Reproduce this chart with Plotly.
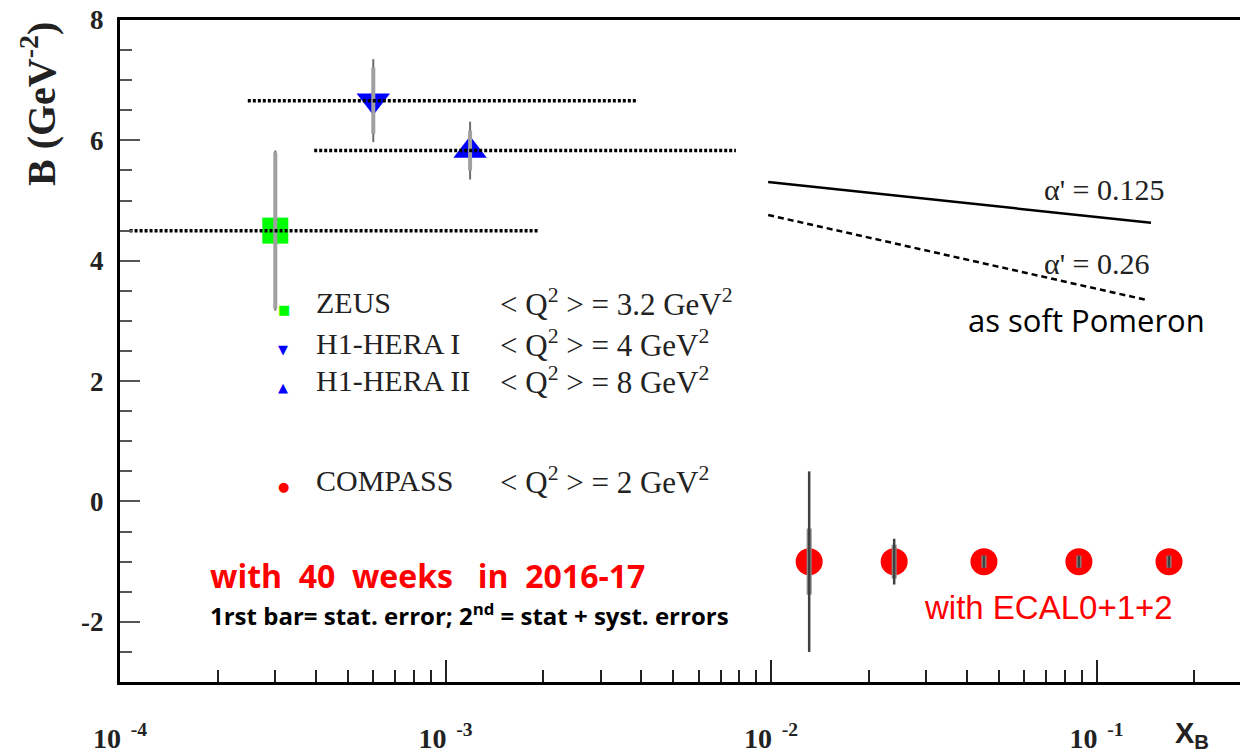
import plotly.graph_objects as go

# ---------------- data ----------------
zeus_x = [3.0e-4]
zeus_B = [4.5]
zeus_stat = [1.30]
zeus_tot = [1.33]
zeus_xlo = [1.07e-4]
zeus_xhi = [1.94e-3]

h1i_x = [6.0e-4]
h1i_B = [6.66]
h1i_stat = [0.55]
h1i_tot = [0.69]
h1i_xlo = [2.47e-4]
h1i_xhi = [3.9e-3]

h1ii_x = [1.19e-3]
h1ii_B = [5.83]
h1ii_stat = [0.33]
h1ii_tot = [0.48]
h1ii_xlo = [3.95e-4]
h1ii_xhi = [7.8e-3]

compass_x = [0.0131, 0.0239, 0.0451, 0.0883, 0.167]
compass_B = [-1.0, -1.0, -1.0, -1.0, -1.0]
compass_stat = [0.55, 0.28, 0.10, 0.10, 0.10]
compass_tot = [1.50, 0.38, 0.10, 0.10, 0.10]

alpha125_x = [0.0098, 0.147]
alpha125_B = [5.31, 4.63]
alpha26_x = [0.0098, 0.142]
alpha26_B = [4.76, 3.35]

xtick_vals = [1e-4, 1e-3, 1e-2, 1e-1]
xtick_text = ["<b>10<sup>  -4</sup></b>", "<b>10<sup>  -3</sup></b>",
              "<b>10<sup>  -2</sup></b>", "<b>10<sup>  -1</sup></b>"]
ytick_vals = [-2, 0, 2, 4, 6, 8]

SERIF = "Liberation Serif"
SANS = "Liberation Sans"
CAL = "Open Sans"

fig = go.Figure()

# markers first
fig.add_trace(go.Scatter(x=zeus_x, y=zeus_B, mode="markers",
                         marker=dict(symbol="square", size=26, color="#00ff00"), showlegend=False))
fig.add_trace(go.Scatter(x=h1i_x, y=h1i_B, mode="markers",
                         marker=dict(symbol="triangle-down", size=29, color="#0000ff"), showlegend=False))
fig.add_trace(go.Scatter(x=h1ii_x, y=h1ii_B, mode="markers",
                         marker=dict(symbol="triangle-up", size=29, color="#0000ff"), showlegend=False))
fig.add_trace(go.Scatter(x=compass_x, y=compass_B, mode="markers",
                         marker=dict(symbol="circle", size=27, color="#ff0000"), showlegend=False))

# error bars (total, then stat) on top of markers
for xs, ys, tot, stat in [(zeus_x, zeus_B, zeus_tot, zeus_stat),
                          (h1i_x, h1i_B, h1i_tot, h1i_stat),
                          (h1ii_x, h1ii_B, h1ii_tot, h1ii_stat)]:
    fig.add_trace(go.Scatter(x=xs, y=ys, mode="markers", marker=dict(size=1, opacity=0),
                             error_y=dict(type="data", array=tot, color="#6e6e6e", thickness=2, width=0),
                             showlegend=False, hoverinfo="skip"))
    fig.add_trace(go.Scatter(x=xs, y=ys, mode="markers", marker=dict(size=1, opacity=0),
                             error_y=dict(type="data", array=stat, color="#a0a0a0", thickness=4, width=0),
                             showlegend=False, hoverinfo="skip"))

fig.add_trace(go.Scatter(x=compass_x, y=compass_B, mode="markers", marker=dict(size=1, opacity=0),
                         error_y=dict(type="data", array=compass_stat, color="#8a8a8a", thickness=5, width=0),
                         showlegend=False, hoverinfo="skip"))
fig.add_trace(go.Scatter(x=compass_x, y=compass_B, mode="markers", marker=dict(size=1, opacity=0),
                         error_y=dict(type="data", array=compass_tot, color="#404040", thickness=2.5, width=0),
                         showlegend=False, hoverinfo="skip"))

# horizontal x-range dotted bars
for lo, hi, b in [(zeus_xlo, zeus_xhi, zeus_B), (h1i_xlo, h1i_xhi, h1i_B), (h1ii_xlo, h1ii_xhi, h1ii_B)]:
    fig.add_trace(go.Scatter(x=[lo[0], hi[0]], y=[b[0], b[0]], mode="lines",
                             line=dict(color="black", width=3.5, dash="3px,2px"),
                             showlegend=False, hoverinfo="skip"))

# soft pomeron lines
fig.add_trace(go.Scatter(x=alpha125_x, y=alpha125_B, mode="lines",
                         line=dict(color="black", width=2.5), showlegend=False))
fig.add_trace(go.Scatter(x=alpha26_x, y=alpha26_B, mode="lines",
                         line=dict(color="black", width=2.5, dash="6px,4px"), showlegend=False))

W, H = 1240, 754
L, R, T, B = 120, 0, 20, 72
pw, ph = W - L - R, H - T - B


def px(xp):
    return (xp - L) / pw


def py(yp):
    return 1 - (yp - T) / ph


ann = []


def add(text, xp, yp, size, family, color="black", xanchor="left", yanchor="middle", angle=0):
    ann.append(dict(text=text, x=px(xp), y=py(yp), xref="paper", yref="paper",
                    xanchor=xanchor, yanchor=yanchor, showarrow=False, textangle=angle,
                    font=dict(size=size, family=family, color=color)))


# legend
Q = "&lt; Q<sup>2</sup> &gt; = "
rows = [("<span style='color:#00ff00'>■</span>", "ZEUS", Q + "3.2 GeV<sup>2</sup>", 303),
        ("<span style='color:#0000ff'>▼</span>", "H1-HERA I", Q + "4 GeV<sup>2</sup>", 343),
        ("<span style='color:#0000ff'>▲</span>", "H1-HERA II", Q + "8 GeV<sup>2</sup>", 381),
        ("<span style='color:#ff0000'>●</span>", "COMPASS", Q + "2 GeV<sup>2</sup>", 480)]
for sym, name, q, yy in rows:
    add(sym, 276, yy + 6, 13, "DejaVu Sans")
    add(name, 314, yy, 30, SERIF, "#222222")
    add(q, 498, yy, 31, SERIF, "#222222")

add("α' = 0.125", 1042, 190, 30, SERIF, "#222222")
add("α' = 0.26", 1042, 263, 30, SERIF, "#222222")
add("as soft Pomeron", 966, 320, 31, CAL)

add("<b>with  40  weeks   in  2016-17</b>", 208, 575, 32, CAL, "#ff0000")
add("<b>1rst bar= stat. error; 2<sup>nd</sup> = stat + syst. errors</b>", 208, 614, 24, CAL)
add("with ECAL0+1+2", 922, 607, 33, SANS, "#ff0000")

add("<b>B (GeV<sup>-2</sup>)</b>", 38, 20, 40, SERIF, "#222222", xanchor="center", yanchor="top", angle=-90)
add("<b>X<sub>B</sub></b>", 1192, 735, 29, SANS, "#222222", xanchor="center")

minor_x = [m * 10 ** e for e in range(-4, 0) for m in range(2, 10)]

fig.update_layout(
    width=W, height=H,
    margin=dict(l=L, r=R, t=T, b=B, pad=0),
    paper_bgcolor="white", plot_bgcolor="white",
    showlegend=False,
    annotations=ann,
    xaxis=dict(type="log", range=[-4, -4 + pw / 325.5],
               showgrid=False, zeroline=False,
               showline=True, linecolor="black", linewidth=3, mirror=True,
               ticks="inside", ticklen=22, tickwidth=1.5, tickcolor="#222222",
               tickvals=xtick_vals, ticktext=xtick_text,
               tickfont=dict(family=SERIF, size=28, color="#222222"),
               ticklabelstandoff=29,
               minor=dict(tickvals=minor_x, ticks="inside", ticklen=12, tickwidth=1.5,
                          tickcolor="#222222", showgrid=False)),
    yaxis=dict(range=[-3, 8], showgrid=False, zeroline=False,
               showline=True, linecolor="black", linewidth=3, mirror=False,
               ticks="inside", ticklen=20, tickwidth=2, tickcolor="#555555",
               tickvals=ytick_vals, ticktext=[f"<b>{v}</b>" for v in ytick_vals],
               tickfont=dict(family=SERIF, size=27, color="#222222"),
               ticklabelstandoff=8,
               minor=dict(dtick=0.5, ticks="inside", ticklen=12, tickwidth=2,
                          tickcolor="#555555", showgrid=False)),
)

fig.write_html("out.html")
